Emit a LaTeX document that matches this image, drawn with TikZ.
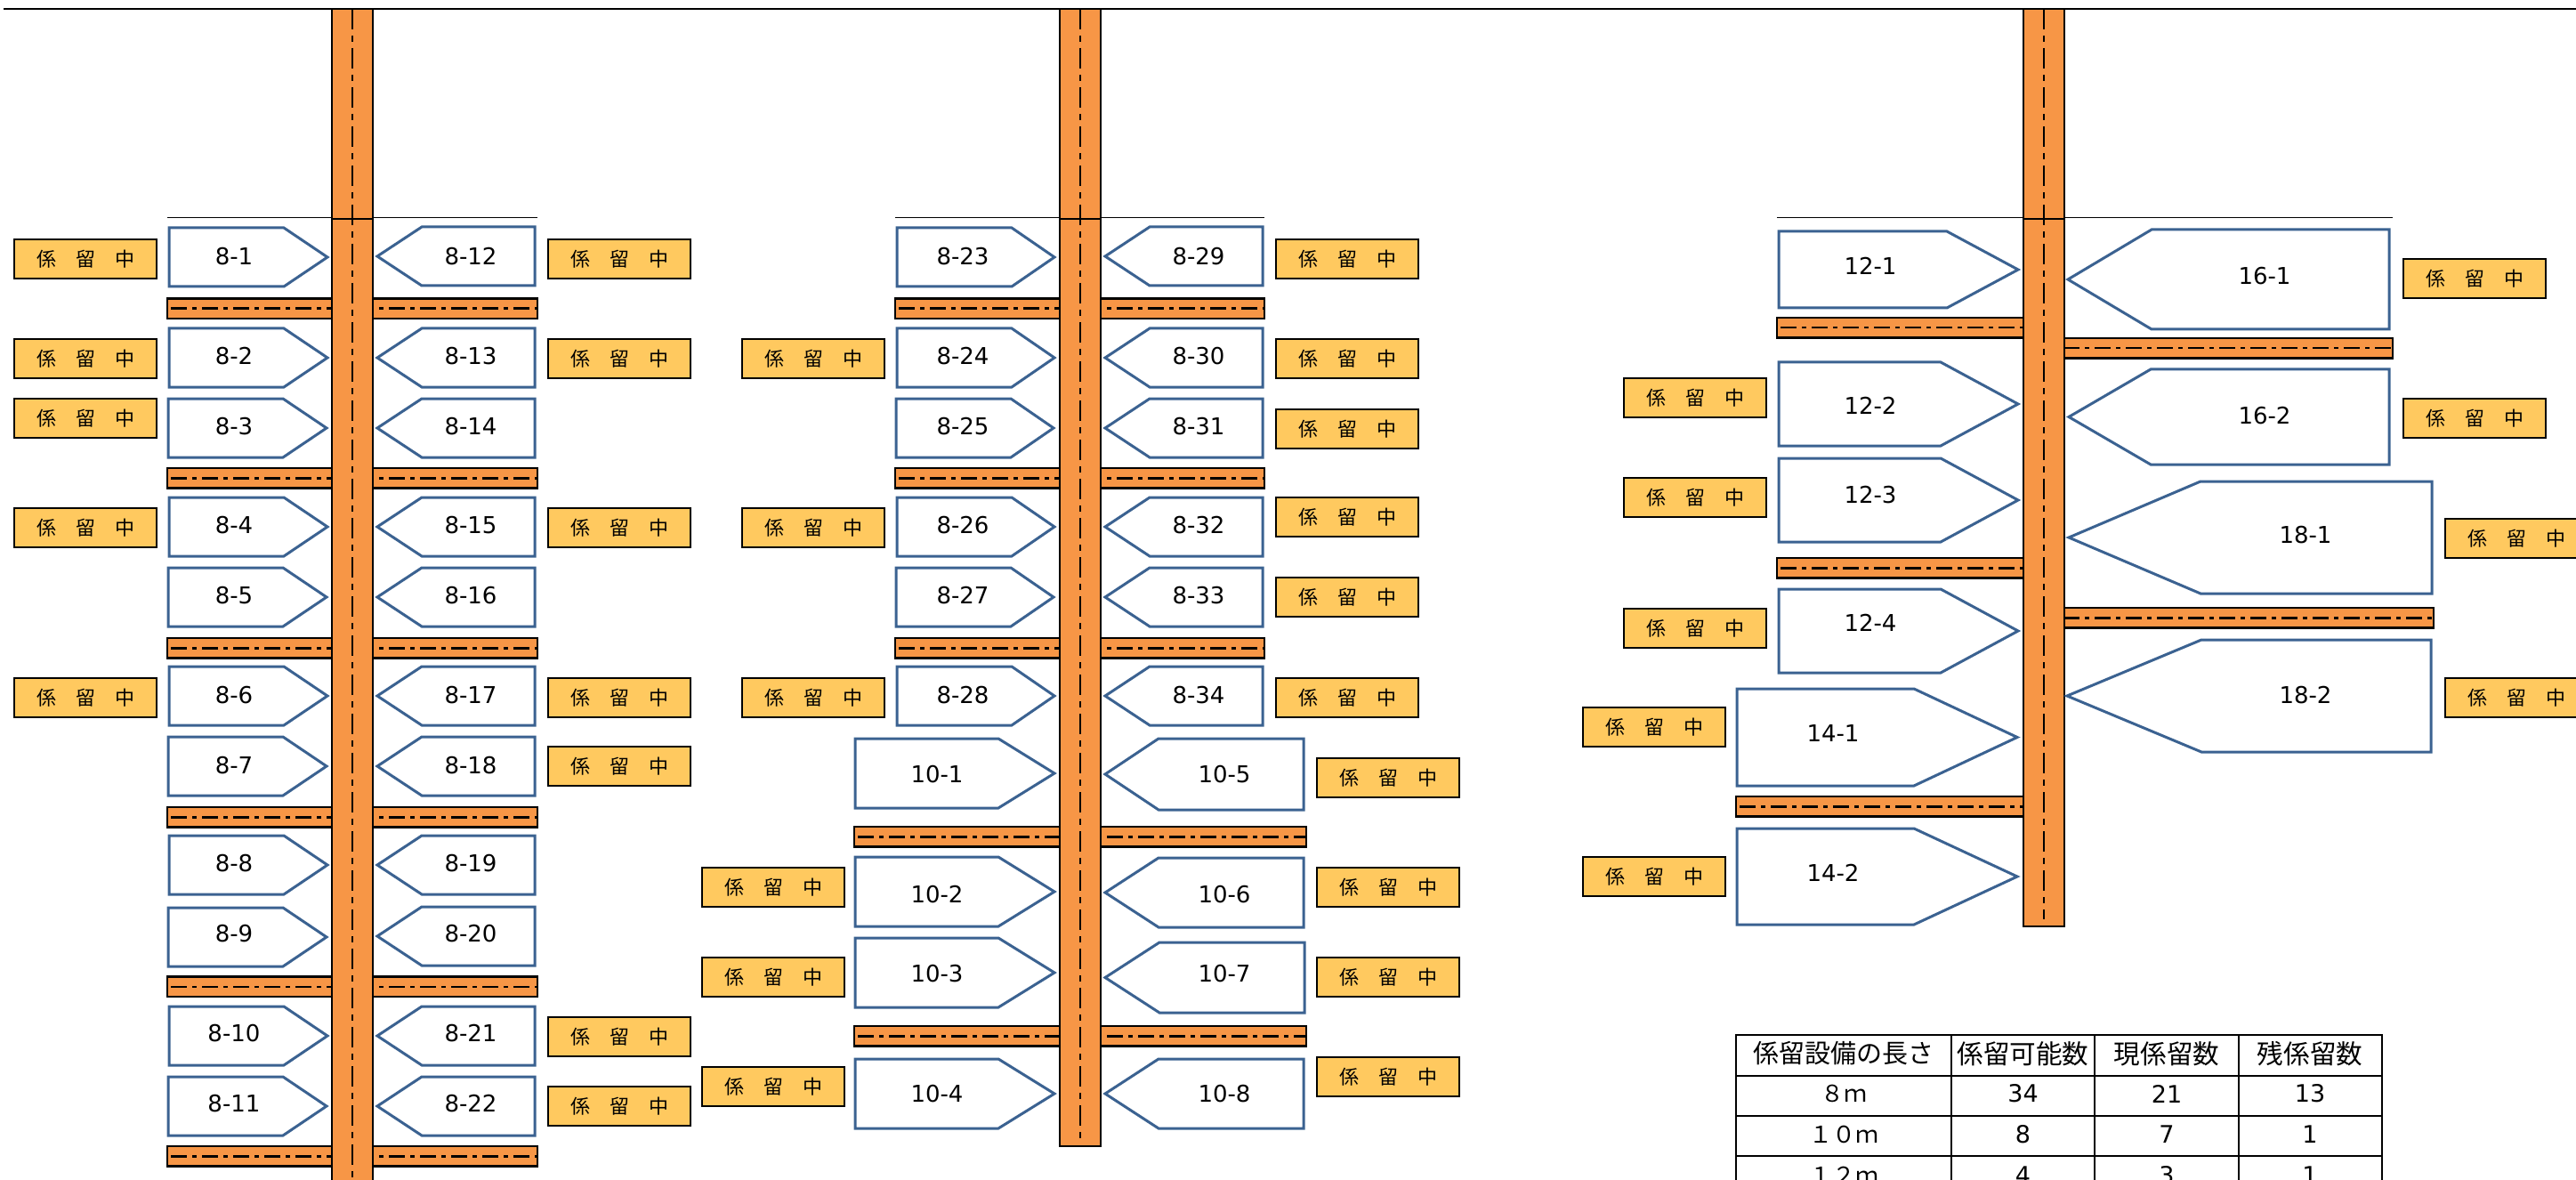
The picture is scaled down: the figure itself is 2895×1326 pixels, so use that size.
\documentclass[tikz,border=0pt]{standalone}
\usepackage{fontspec}
\setmainfont{DejaVu Sans}
\newfontfamily\jpfont{Noto Sans CJK JP}
\definecolor{roadfill}{HTML}{F79646}
\definecolor{signfill}{HTML}{FFC95F}
\definecolor{boatline}{HTML}{3B6291}
\tikzset{
  roadbox/.style={draw=black,line width=1.25pt,fill=roadfill},
  vcentre/.style={draw=black,line width=0.7pt,dash pattern=on 11.5pt off 3.5pt on 3.5pt off 3.5pt},
  hcentre/.style={draw=black,line width=1.25pt,dash pattern=on 9pt off 3pt on 2.5pt off 3pt},
  thinline/.style={draw=black,line width=0.5pt},
  boatshape/.style={draw=boatline,line width=1.5pt,fill=white,line join=miter},
  boatlabel/.style={font=\fontsize{13pt}{15pt}\selectfont,inner sep=0pt},
  signbox/.style={draw=black,line width=1.25pt,fill=signfill,minimum width=80pt,minimum height=22pt,inner sep=0pt,
    font=\jpfont\fontsize{11pt}{13pt}\selectfont},
  cellline/.style={draw=black,line width=1pt},
  celltext/.style={inner sep=0pt,font=\fontsize{13.5pt}{15pt}\selectfont},
  cellhead/.style={inner sep=0pt,font=\jpfont\fontsize{14.8pt}{16pt}\selectfont},
  cellunit/.style={inner sep=0pt,font=\jpfont\fontsize{13pt}{15pt}\selectfont},
}
% label, back x, shoulder x, tip x, top y, bottom y, label x, label y
\newcommand{\boat}[8]{%
  \pgfmathsetmacro{\bdir}{ifthenelse(#4>#2,1,-1)}%
  \pgfmathsetmacro{\bback}{#2+\bdir}%
  \pgfmathsetmacro{\btip}{#4-2*\bdir}%
  \pgfmathsetmacro{\btop}{#5+1}%
  \pgfmathsetmacro{\bbot}{#6-1}%
  \draw[boatshape] (\bback,\btop) -- (#3,\btop) -- (\btip,{(#5+#6)/2}) -- (#3,\bbot) -- (\bback,\bbot) -- cycle;
  \node[boatlabel] (b#1) at (#7,#8) {#1};}
% name, left x, top y
\newcommand{\moored}[3]{\node[signbox] (s#1) at ({#2+81},{#3+23}) {係　留　中};}
% name, x0, x1, y
\newcommand{\pier}[4]{%
  \draw[roadbox] (#2,#4) rectangle (#3,{#4+22.5});
  \coordinate (#1a) at (#2+4,{#4+11.25}); \coordinate (#1b) at (#3,{#4+11.25});
  \draw[hcentre] (#1a) -- (#1b);}
% name, centre x, bottom y
\newcommand{\road}[3]{%
  \draw[roadbox] ({#2-23},10) rectangle ({#2+23},246);
  \draw[roadbox] ({#2-23},246) rectangle ({#2+23},#3);
  \coordinate (#1a) at (#2,10); \coordinate (#1b) at (#2,{#3-8});
  \draw[vcentre] (#1a) -- (#1b);}
\begin{document}
\begin{tikzpicture}[x=0.5pt,y=-0.5pt]
\useasboundingbox (0,0) rectangle (2895,1326);
\clip (0,0) rectangle (2895,1326);
\coordinate (topa) at (4,10); \coordinate (topb) at (2895,10);
\draw[black,line width=1pt] (topa) -- (topb);
% thin lines
\coordinate (ta1) at (188,245); \coordinate (tb1) at (604,245);
\coordinate (ta2) at (1006,245); \coordinate (tb2) at (1421,245);
\coordinate (ta3) at (1997,245); \coordinate (tb3) at (2689,245);
\draw[thinline] (ta1) -- (tb1); \draw[thinline] (ta2) -- (tb2); \draw[thinline] (ta3) -- (tb3);
% piers column 1
\pier{pa}{188}{604}{335.5}\pier{pb}{188}{604}{526}\pier{pc}{188}{604}{717}
\pier{pd}{188}{604}{907}\pier{pe}{188}{604}{1097.5}\pier{pf}{188}{604}{1288}
% piers column 2
\pier{pg}{1006}{1421}{335.5}\pier{ph}{1006}{1421}{526}\pier{pi}{1006}{1421}{717}
\pier{pj}{960}{1468}{929}\pier{pk}{960}{1468}{1153}
% piers column 3
\pier{pl}{1997}{2280}{357}\pier{pm}{2315}{2689}{380}
\pier{pn}{1997}{2280}{627}\pier{po}{2315}{2735}{683}
\pier{pp}{1951}{2280}{895}
% roads
\road{ra}{396}{1340}
\road{rb}{1214}{1288}
\road{rc}{2297}{1041}
% column 1 left
\boat{8-1}{189}{319}{370}{255}{323}{263}{288}
\boat{8-2}{189}{319}{370}{368}{436}{263}{400}
\boat{8-3}{188}{318}{369}{447}{515}{263}{479}
\boat{8-4}{189}{319}{370}{558}{626}{263}{590}
\boat{8-5}{188}{318}{369}{637}{705}{263}{669}
\boat{8-6}{189}{319}{370}{748}{816}{263}{781}
\boat{8-7}{188}{318}{369}{827}{895}{263}{860}
\boat{8-8}{189}{319}{370}{938}{1006}{263}{970}
\boat{8-9}{188}{318}{369}{1019}{1087}{263}{1049}
\boat{8-10}{189}{319}{370}{1130}{1198}{263}{1161}
\boat{8-11}{188}{318}{369}{1209}{1277}{263}{1240}
% column 1 right
\boat{8-12}{602}{474}{422}{254}{322}{529}{288}
\boat{8-13}{602}{474}{422}{368}{436}{529}{400}
\boat{8-14}{602}{474}{422}{447}{515}{529}{479}
\boat{8-15}{602}{474}{422}{558}{626}{529}{590}
\boat{8-16}{602}{474}{422}{637}{705}{529}{669}
\boat{8-17}{602}{474}{422}{748}{816}{529}{781}
\boat{8-18}{602}{474}{422}{827}{895}{529}{860}
\boat{8-19}{602}{474}{422}{938}{1006}{529}{970}
\boat{8-20}{602}{474}{422}{1018}{1086}{529}{1049}
\boat{8-21}{602}{474}{422}{1130}{1198}{529}{1161}
\boat{8-22}{602}{474}{422}{1209}{1277}{529}{1240}
% column 2 left
\boat{8-23}{1007}{1137}{1187}{255}{323}{1082}{288}
\boat{8-24}{1007}{1137}{1187}{368}{436}{1082}{400}
\boat{8-25}{1006}{1136}{1186}{447}{515}{1082}{479}
\boat{8-26}{1007}{1137}{1187}{558}{626}{1082}{590}
\boat{8-27}{1006}{1136}{1186}{637}{705}{1082}{669}
\boat{8-28}{1007}{1137}{1187}{748}{816}{1082}{781}
\boat{10-1}{960}{1122}{1187}{829}{909}{1053}{870}
\boat{10-2}{960}{1122}{1187}{962}{1042}{1053}{1005}
\boat{10-3}{960}{1122}{1187}{1053}{1133}{1053}{1094}
\boat{10-4}{960}{1122}{1187}{1189}{1269}{1053}{1229}
% column 2 right
\boat{8-29}{1420}{1292}{1240}{254}{322}{1347}{288}
\boat{8-30}{1420}{1292}{1240}{368}{436}{1347}{400}
\boat{8-31}{1420}{1292}{1240}{447}{515}{1347}{479}
\boat{8-32}{1420}{1292}{1240}{558}{626}{1347}{590}
\boat{8-33}{1420}{1292}{1240}{637}{705}{1347}{669}
\boat{8-34}{1420}{1292}{1240}{748}{816}{1347}{781}
\boat{10-5}{1466}{1302}{1240}{829}{911}{1376}{870}
\boat{10-6}{1466}{1302}{1240}{963}{1043}{1376}{1005}
\boat{10-7}{1467}{1303}{1240}{1058}{1139}{1376}{1094}
\boat{10-8}{1466}{1302}{1240}{1189}{1269}{1376}{1229}
% column 3
\boat{12-1}{1998}{2188}{2270}{259}{347}{2102}{299}
\boat{12-2}{1998}{2181}{2270}{406}{502}{2102}{456}
\boat{12-3}{1998}{2181}{2270}{514}{610}{2102}{556}
\boat{12-4}{1998}{2181}{2270}{661}{757}{2102}{700}
\boat{14-1}{1951}{2151}{2269}{773}{884}{2060}{824}
\boat{14-2}{1951}{2151}{2269}{930}{1040}{2060}{981}
\boat{16-1}{2686}{2418}{2322}{257}{371}{2545}{310}
\boat{16-2}{2686}{2417}{2323}{414}{523}{2545}{467}
\boat{18-1}{2734}{2473}{2323}{540}{668}{2591}{601}
\boat{18-2}{2733}{2474}{2321}{718}{846}{2591}{781}
% signs column 1
\moored{8-1}{15}{268}\moored{8-2}{15}{380}\moored{8-3}{15}{447}\moored{8-4}{15}{570}\moored{8-6}{15}{761}
\moored{8-12}{615}{268}\moored{8-13}{615}{380}\moored{8-15}{615}{570}\moored{8-17}{615}{761}
\moored{8-18}{615}{838}\moored{8-21}{615}{1142}\moored{8-22}{615}{1220}
% signs column 2
\moored{8-24}{833}{380}\moored{8-26}{833}{570}\moored{8-28}{833}{761}
\moored{10-2}{788}{974}\moored{10-3}{788}{1075}\moored{10-4}{788}{1198}
\moored{8-29}{1433}{268}\moored{8-30}{1433}{380}\moored{8-31}{1433}{459}\moored{8-32}{1433}{558}
\moored{8-33}{1433}{648}\moored{8-34}{1433}{761}
\moored{10-5}{1479}{851}\moored{10-6}{1479}{974}\moored{10-7}{1479}{1075}\moored{10-8}{1479}{1187}
% signs column 3
\moored{12-2}{1824}{424}\moored{12-3}{1824}{536}\moored{12-4}{1824}{683}
\moored{14-1}{1778}{794}\moored{14-2}{1778}{962}
\moored{16-1}{2700}{290}\moored{16-2}{2700}{447}
\moored{18-1}{2747}{582}\moored{18-2}{2747}{761}
% table
\draw[cellline] (1951,1163) rectangle (2677,1344);
\draw[cellline] (1951,1209) -- (2677,1209) (1951,1254) -- (2677,1254) (1951,1299) -- (2677,1299);
\draw[cellline] (2193,1163) -- (2193,1344) (2354,1163) -- (2354,1344) (2516,1163) -- (2516,1344);
\node[cellhead,font=\jpfont\fontsize{14.5pt}{16pt}\selectfont] (h1) at (2072,1184) {係留設備の長さ};
\node[cellhead] (h2) at (2273.5,1184) {係留可能数};
\node[cellhead] (h3) at (2435,1184) {現係留数};
\node[cellhead] (h4) at (2596,1184) {残係留数};
\node[cellunit] (c11) at (2072,1229) {８ｍ};
\node[celltext] (c12) at (2273.5,1229) {34};
\node[celltext] (c13) at (2435,1229) {21};
\node[celltext] (c14) at (2596,1229) {13};
\node[cellunit] (c21) at (2072,1275) {１０ｍ};
\node[celltext] (c22) at (2273.5,1275) {8};
\node[celltext] (c23) at (2435,1275) {7};
\node[celltext] (c24) at (2596,1275) {1};
\node[cellunit] (c31) at (2072,1321) {１２ｍ};
\node[celltext] (c32) at (2273.5,1321) {4};
\node[celltext] (c33) at (2435,1321) {3};
\node[celltext] (c34) at (2596,1321) {1};
\end{tikzpicture}
\end{document}
